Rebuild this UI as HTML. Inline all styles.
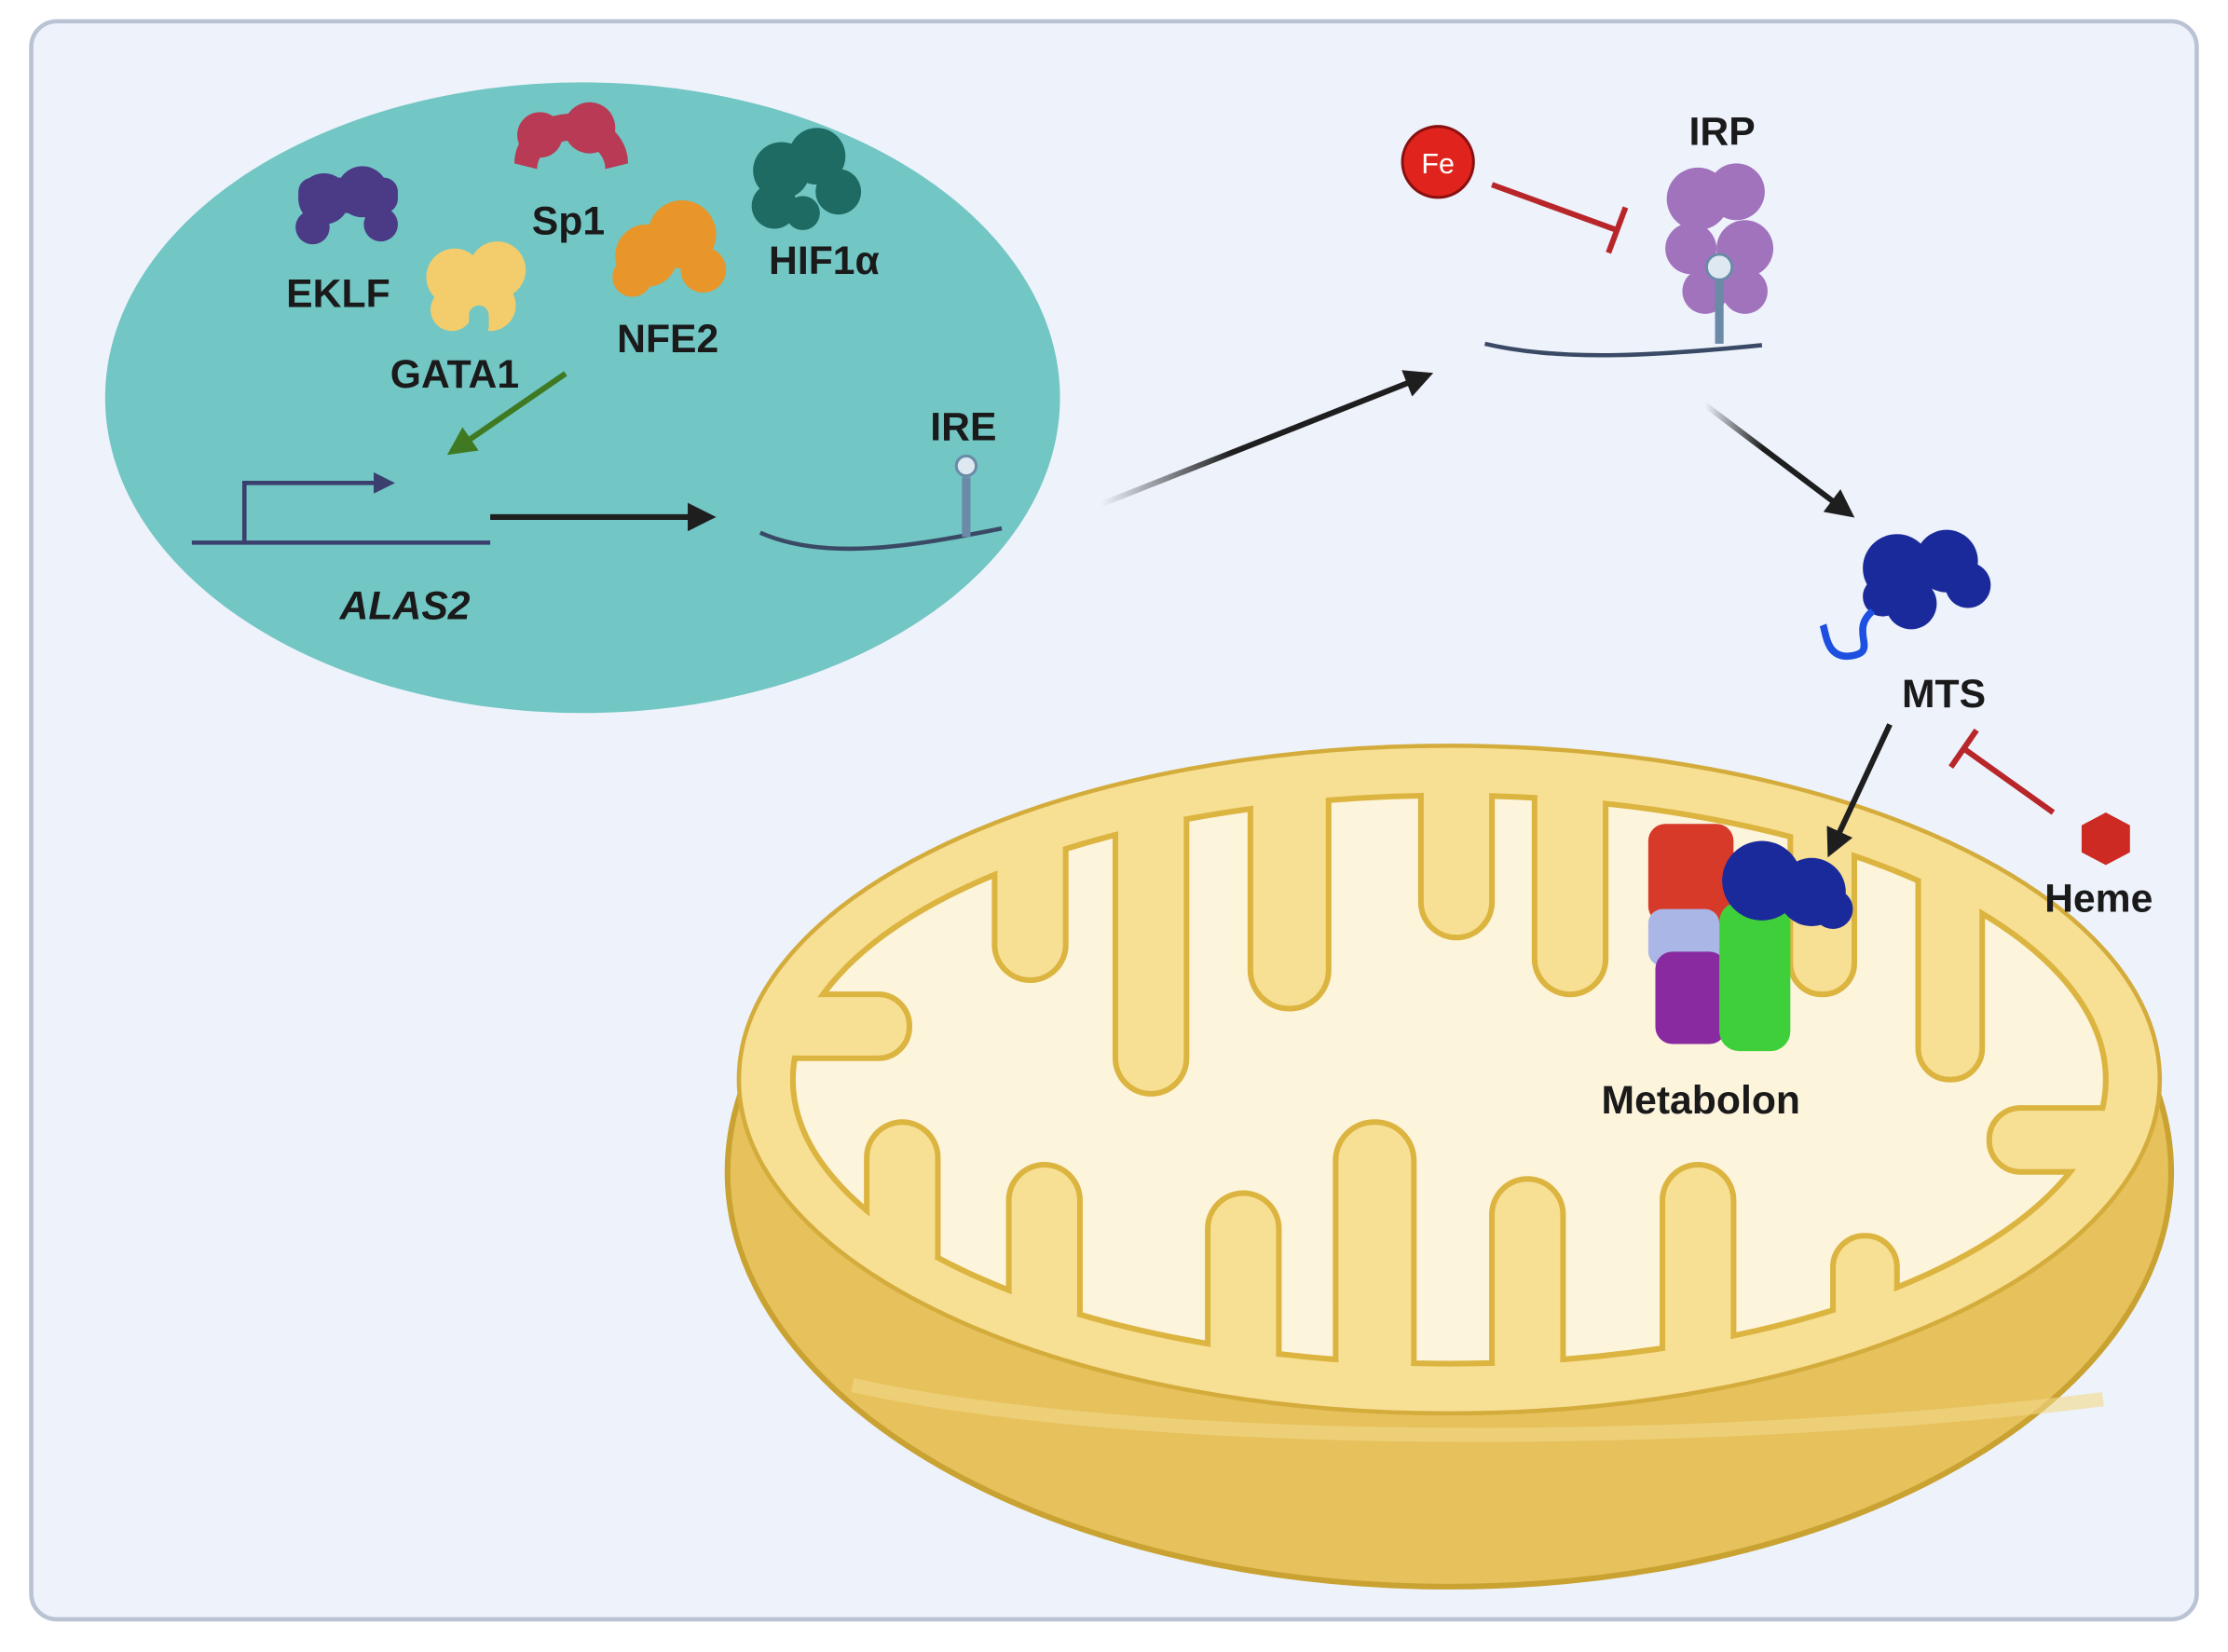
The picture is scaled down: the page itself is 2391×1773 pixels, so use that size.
<!DOCTYPE html>
<html><head><meta charset="utf-8"><style>
html,body{margin:0;padding:0;background:#fff;}
svg{display:block;}
text{font-family:"Liberation Sans",sans-serif;font-weight:bold;fill:#1a1a1a;}
</style></head><body>
<svg width="2391" height="1773" viewBox="0 0 1568 1163" preserveAspectRatio="none" xmlns="http://www.w3.org/2000/svg">
<defs>
<marker id="ah" viewBox="0 0 10 10" refX="8" refY="5" markerWidth="5" markerHeight="5" orient="auto"><path d="M0,0 L10,5 L0,10 z" fill="#1e1e1e"/></marker>
<marker id="ahg" viewBox="0 0 10 10" refX="8" refY="5" markerWidth="5" markerHeight="5" orient="auto"><path d="M0,0 L10,5 L0,10 z" fill="#3f7a22"/></marker>
<marker id="ahb" viewBox="0 0 10 10" refX="8" refY="5" markerWidth="5" markerHeight="5" orient="auto"><path d="M0,0 L10,5 L0,10 z" fill="#3a3f6e"/></marker>
<linearGradient id="fade" x1="0" y1="0" x2="1" y2="0"><stop offset="0" stop-color="#1e1e1e" stop-opacity="0"/><stop offset="0.4" stop-color="#1e1e1e"/></linearGradient>
<clipPath id="inner"><ellipse cx="1020" cy="760" rx="462" ry="200"/></clipPath>
<clipPath id="top"><ellipse cx="1020" cy="760" rx="497" ry="232"/></clipPath>
</defs>
<rect x="22" y="15" width="1524" height="1125" rx="18" fill="#edf2fb" stroke="#b9c3d3" stroke-width="3"/>
<ellipse cx="410" cy="280" rx="336" ry="222" fill="#72c6c4"/>
<g fill="#4b3b86"><circle cx="228" cy="140" r="18"/><circle cx="255" cy="135" r="18"/><circle cx="220" cy="160" r="12"/><circle cx="268" cy="158" r="12"/><rect x="210" y="125" width="70" height="25" rx="10"/></g>
<g fill="#b83a55"><path d="M362,115 a40,35 0 0 1 80,0 l-16,4 a24,20 0 0 0 -48,0 z"/><circle cx="380" cy="95" r="16"/><circle cx="415" cy="90" r="18"/></g>
<g fill="#e8962a"><circle cx="455" cy="180" r="22"/><circle cx="480" cy="165" r="24"/><circle cx="495" cy="190" r="16"/><circle cx="445" cy="195" r="14"/></g>
<g fill="#1e6b63"><circle cx="550" cy="120" r="20"/><circle cx="575" cy="110" r="20"/><circle cx="590" cy="135" r="16"/><circle cx="545" cy="145" r="16"/><circle cx="565" cy="150" r="12"/></g>
<g fill="#f3cd6c"><circle cx="320" cy="195" r="20"/><circle cx="350" cy="190" r="20"/><circle cx="345" cy="215" r="18"/><circle cx="318" cy="218" r="15"/></g>
<rect x="330" y="215" width="14" height="22" rx="7" fill="#72c6c4"/>
<text x="238" y="216" font-size="28" text-anchor="middle">EKLF</text>
<text x="400" y="165" font-size="28" text-anchor="middle">Sp1</text>
<text x="470" y="248" font-size="28" text-anchor="middle">NFE2</text>
<text x="580" y="193" font-size="28" text-anchor="middle">HIF1α</text>
<text x="320" y="273" font-size="28" text-anchor="middle">GATA1</text>
<line x1="398" y1="263" x2="318" y2="318" stroke="#3f7a22" stroke-width="4" marker-end="url(#ahg)"/>
<line x1="135" y1="382" x2="345" y2="382" stroke="#3a3f6e" stroke-width="3"/>
<polyline points="172,382 172,340 275,340" fill="none" stroke="#3a3f6e" stroke-width="3" marker-end="url(#ahb)"/>
<text x="285" y="436" font-size="28" text-anchor="middle" font-style="italic">ALAS2</text>
<line x1="345" y1="364" x2="500" y2="364" stroke="#1e1e1e" stroke-width="4" marker-end="url(#ah)"/>
<path d="M535,375 C580,395 640,385 705,372" fill="none" stroke="#3a4a66" stroke-width="3"/>
<line x1="680" y1="336" x2="680" y2="378" stroke="#6a8aa8" stroke-width="6"/>
<circle cx="680" cy="328" r="7" fill="#dde8f0" stroke="#6a8aa8" stroke-width="2"/>
<text x="678" y="310" font-size="28" text-anchor="middle">IRE</text>
<line x1="775" y1="355" x2="1005" y2="264" stroke="url(#fade)" stroke-width="4" marker-end="url(#ah)"/>
<circle cx="1012" cy="114" r="25" fill="#e0231c" stroke="#8a1010" stroke-width="2"/>
<text x="1012" y="122" font-size="20" text-anchor="middle" style="fill:#fff;font-weight:normal">Fe</text>
<line x1="1050" y1="130" x2="1138" y2="162" stroke="#b8262a" stroke-width="4"/>
<line x1="1132" y1="178" x2="1144" y2="146" stroke="#b8262a" stroke-width="4"/>
<g fill="#a273bd"><circle cx="1195" cy="140" r="22"/><circle cx="1222" cy="135" r="20"/><circle cx="1190" cy="175" r="18"/><circle cx="1228" cy="175" r="20"/><circle cx="1200" cy="205" r="16"/><circle cx="1228" cy="205" r="16"/></g>
<line x1="1210" y1="195" x2="1210" y2="242" stroke="#6a8aa8" stroke-width="6"/>
<circle cx="1210" cy="188" r="9" fill="#dde8f0" stroke="#6a8aa8" stroke-width="2"/>
<text x="1212" y="102" font-size="28" text-anchor="middle">IRP</text>
<path d="M1045,242 C1100,255 1170,250 1240,243" fill="none" stroke="#3a4a66" stroke-width="3"/>
<line x1="1200" y1="285" x2="1302" y2="362" stroke="url(#fade)" stroke-width="4" marker-end="url(#ah)"/>
<g fill="#1a2a9a"><circle cx="1335" cy="400" r="24"/><circle cx="1370" cy="395" r="22"/><circle cx="1385" cy="412" r="16"/><circle cx="1345" cy="425" r="18"/><circle cx="1325" cy="420" r="14"/></g>
<path d="M1318,430 C1300,445 1325,460 1300,462 C1285,462 1285,445 1283,440" fill="none" stroke="#1d4fe0" stroke-width="5"/>
<text x="1368" y="498" font-size="28" text-anchor="middle">MTS</text>
<ellipse cx="1020" cy="825" rx="508" ry="292" fill="#e6c15c" stroke="#c9a232" stroke-width="4"/>
<path d="M600,975 C800,1020 1200,1020 1480,985" fill="none" stroke="#f2d889" stroke-width="10" opacity="0.6"/>
<ellipse cx="1020" cy="760" rx="500" ry="235" fill="#f7df93" stroke="#d4ac3c" stroke-width="3"/>
<ellipse cx="1020" cy="760" rx="462" ry="200" fill="#fdf4dc" stroke="#dcb440" stroke-width="4"/>
<g clip-path="url(#inner)" fill="#f7df93" stroke="#dcb440" stroke-width="4">
<rect x="700" y="520" width="50" height="170" rx="25"/>
<rect x="785" y="520" width="50" height="250" rx="25"/>
<rect x="880" y="520" width="55" height="190" rx="27"/>
<rect x="1000" y="520" width="50" height="140" rx="25"/>
<rect x="1080" y="520" width="50" height="180" rx="25"/>
<rect x="1260" y="540" width="45" height="160" rx="22"/>
<rect x="1350" y="560" width="45" height="200" rx="22"/>
<rect x="610" y="790" width="50" height="220" rx="25"/>
<rect x="710" y="820" width="50" height="200" rx="25"/>
<rect x="850" y="840" width="50" height="170" rx="25"/>
<rect x="940" y="790" width="55" height="220" rx="27"/>
<rect x="1050" y="830" width="50" height="180" rx="25"/>
<rect x="1170" y="820" width="50" height="180" rx="25"/>
<rect x="1290" y="870" width="45" height="130" rx="22"/>
<rect x="1400" y="780" width="130" height="45" rx="22"/>
<rect x="510" y="700" width="130" height="45" rx="22"/>
</g>
<g clip-path="url(#top)" fill="#f7df93">
<rect x="702" y="480" width="46" height="208" rx="23"/>
<rect x="787" y="480" width="46" height="288" rx="23"/>
<rect x="882" y="480" width="51" height="228" rx="25"/>
<rect x="1002" y="480" width="46" height="178" rx="23"/>
<rect x="1082" y="480" width="46" height="218" rx="23"/>
<rect x="1262" y="480" width="41" height="218" rx="20"/>
<rect x="1352" y="480" width="41" height="278" rx="20"/>
<rect x="612" y="792" width="46" height="260" rx="23"/>
<rect x="712" y="822" width="46" height="240" rx="23"/>
<rect x="852" y="842" width="46" height="210" rx="23"/>
<rect x="942" y="792" width="51" height="260" rx="25"/>
<rect x="1052" y="832" width="46" height="220" rx="23"/>
<rect x="1172" y="822" width="46" height="220" rx="23"/>
<rect x="1292" y="872" width="41" height="170" rx="20"/>
<rect x="1402" y="782" width="160" height="41" rx="20"/>
<rect x="470" y="702" width="168" height="41" rx="20"/>
</g>
<g><rect x="1160" y="580" width="60" height="70" rx="12" fill="#d83a2a"/>
<rect x="1160" y="640" width="50" height="40" rx="10" fill="#a9b6e6"/>
<rect x="1165" y="670" width="50" height="65" rx="12" fill="#8a2aa0"/>
<rect x="1210" y="635" width="50" height="105" rx="14" fill="#3fcf3a"/>
<circle cx="1240" cy="620" r="28" fill="#1a2a9a"/><circle cx="1275" cy="628" r="24" fill="#1a2a9a"/><circle cx="1290" cy="640" r="14" fill="#1a2a9a"/></g>
<text x="1197" y="784" font-size="28" text-anchor="middle">Metabolon</text>
<line x1="1330" y1="510" x2="1288" y2="600" stroke="#1e1e1e" stroke-width="4" marker-end="url(#ah)"/>
<line x1="1445" y1="572" x2="1382" y2="527" stroke="#b8262a" stroke-width="4"/>
<line x1="1373" y1="540" x2="1391" y2="514" stroke="#b8262a" stroke-width="4"/>
<polygon points="1482,572 1499,581 1499,600 1482,609 1465,600 1465,581" fill="#cc2a22"/>
<text x="1477" y="642" font-size="28" text-anchor="middle">Heme</text>
</svg>
</body></html>
